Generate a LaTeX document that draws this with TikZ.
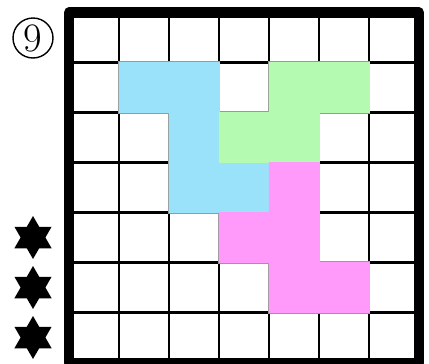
\documentclass[tikz,border=0pt]{standalone}
\usetikzlibrary{shapes.geometric}
\definecolor{pblue}{RGB}{153,226,250}
\definecolor{pgreen}{RGB}{180,250,176}
\definecolor{ppink}{RGB}{255,153,250}
\tikzset{
  gridline/.style={line width=1.3pt, black},
  frameline/.style={line width=5.7pt, black, line join=round},
  pieceedge/.style={draw=gray!80, line width=1.5pt},
  starmark/.style={star, star points=6, star point ratio=1.732, fill=black, draw=none, inner sep=0pt, minimum size=0.86cm},
}
\begin{document}
\begin{tikzpicture}[x=0.02cm, y=-0.02cm]
\useasboundingbox (0,0) rectangle (429,363);
% grid
\foreach \i in {1,...,6} {
  \draw[gridline] (69+50*\i,12.5) -- (69+50*\i,362.5);
  \draw[gridline] (69,12.5+50*\i) -- (419,12.5+50*\i);
}
% piece outlines (gray, under fills)
\begin{scope}[shift={(69,12.5)}, x=1cm, y=-1cm]
  \draw[pieceedge] (1,1) -- (3,1) -- (3,3) -- (4,3) -- (4,4) -- (2,4) -- (2,2) -- (1,2) -- cycle;
  \draw[pieceedge] (4,1) -- (6,1) -- (6,2) -- (5,2) -- (5,3) -- (3,3) -- (3,2) -- (4,2) -- cycle;
  \draw[pieceedge] (4,3) -- (5,3) -- (5,5) -- (6,5) -- (6,6) -- (4,6) -- (4,5) -- (3,5) -- (3,4) -- (4,4) -- cycle;
  \filldraw[fill=pblue, draw=pblue, line width=0.3pt] (1,1) -- (3,1) -- (3,3) -- (4,3) -- (4,4) -- (2,4) -- (2,2) -- (1,2) -- cycle;
  \filldraw[fill=pgreen, draw=pgreen, line width=0.3pt] (4,1) -- (6,1) -- (6,2) -- (5,2) -- (5,3) -- (3,3) -- (3,2) -- (4,2) -- cycle;
  \filldraw[fill=ppink, draw=ppink, line width=0.3pt] (4,3) -- (5,3) -- (5,5) -- (6,5) -- (6,6) -- (4,6) -- (4,5) -- (3,5) -- (3,4) -- (4,4) -- cycle;
\end{scope}
% frame
\draw[frameline] (69,12.5) rectangle (419,362.5);
% label
\node[draw, circle, line width=0.8pt, minimum size=0.8cm, inner sep=0pt, font=\fontsize{23}{23}\selectfont] (num) at (33,38) {9};
% stars
\node[starmark] (s1) at (33,237.5) {};
\node[starmark] (s2) at (33,287.5) {};
\node[starmark] (s3) at (33,337.5) {};
\end{tikzpicture}
\end{document}
